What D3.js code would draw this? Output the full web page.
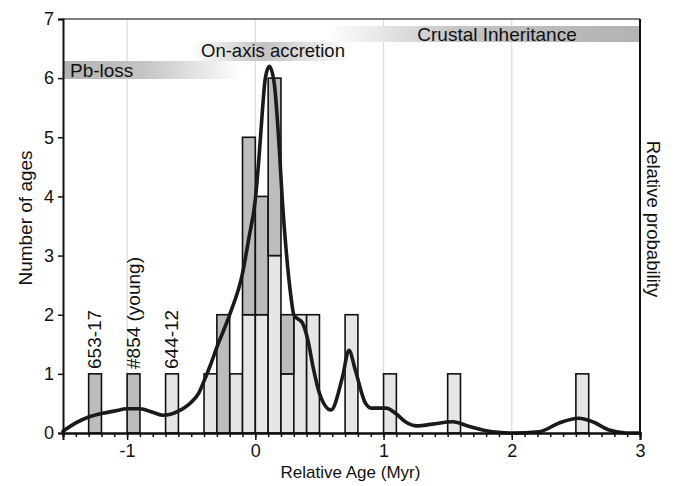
<!DOCTYPE html>
<html>
<head>
<meta charset="utf-8">
<script src="https://cdn.jsdelivr.net/npm/d3@7"></script>
<style>
  html, body { margin: 0; padding: 0; background: #fff; }
  svg { display: block; font-family: "Liberation Sans", Arial, sans-serif; }
</style>
</head>
<body>
<svg id="chart" width="678" height="486"></svg>
<script>
// Histogram bins (0.1 Myr wide), stacked: light part below, dark part above
const binStart   = [-1.3, -1.0, -0.7, -0.4, -0.3, -0.2, -0.1, 0.0, 0.1, 0.2, 0.3, 0.4, 0.7, 1.0, 1.5, 2.5];
const lightCount = [0, 0, 1, 1, 0, 1, 2, 2, 3, 1, 2, 2, 2, 1, 1, 1];
const darkCount  = [1, 1, 0, 0, 2, 0, 3, 2, 3, 1, 0, 0, 0, 0, 0, 0];
const binWidth = 0.1;

// Relative probability curve (scaled to count units)
const probAge = [-1.5, -1.4, -1.3, -1.2, -1.1, -1.0, -0.9, -0.8, -0.72, -0.6, -0.5, -0.44, -0.4, -0.35, -0.3, -0.2, -0.1, -0.05, 0.0, 0.03, 0.057, 0.078, 0.11, 0.148, 0.187, 0.21, 0.24, 0.278, 0.30, 0.37, 0.41, 0.45, 0.5, 0.59, 0.68, 0.73, 0.78, 0.86, 0.91, 1.02, 1.095, 1.17, 1.26, 1.38, 1.54, 1.67, 1.85, 2.0, 2.21, 2.37, 2.52, 2.63, 2.76, 2.89, 3.0];
const probVal = [0.03, 0.17, 0.27, 0.33, 0.37, 0.41, 0.41, 0.35, 0.30, 0.37, 0.52, 0.68, 0.88, 1.15, 1.45, 2.0, 2.7, 3.3, 3.95, 4.7, 5.5, 6.0, 6.2, 5.9, 4.8, 3.95, 3.1, 2.3, 2.0, 1.85, 1.57, 1.12, 0.67, 0.39, 0.95, 1.4, 1.06, 0.5, 0.42, 0.42, 0.33, 0.19, 0.12, 0.15, 0.19, 0.11, 0.02, 0.0, 0.02, 0.17, 0.25, 0.19, 0.05, 0.0, 0.0];

// Sample labels above individual bins
const sampleLabels = ["653-17", "#854 (young)", "644-12"];
const sampleAges   = [-1.25, -0.95, -0.65];

// Interpretive bands across the top
const bandNames = ["Pb-loss", "On-axis accretion", "Crustal Inheritance"];

const xTicks = [-1, 0, 1, 2, 3];
const yTicks = [0, 1, 2, 3, 4, 5, 6, 7];

const svg = d3.select("#chart");
const plotL = 63, plotR = 640, plotT = 19, plotB = 433;

const x = d3.scaleLinear().domain([-1.5, 3]).range([plotL, plotR]);
const y = d3.scaleLinear().domain([0, 7]).range([plotB, plotT]);

// Vertical grid lines
svg.append("g").selectAll("line")
  .data([-1, 0, 1, 2]).join("line")
  .attr("x1", d => x(d)).attr("x2", d => x(d))
  .attr("y1", plotT).attr("y2", plotB)
  .attr("stroke", "#dcdcdc").attr("stroke-width", 1.2);

// Gradients for the top bands
const defs = svg.append("defs");
function grad(id, stops) {
  const g = defs.append("linearGradient").attr("id", id)
    .attr("x1", "0%").attr("x2", "100%").attr("y1", "0%").attr("y2", "0%");
  stops.forEach(s => g.append("stop").attr("offset", s[0]).attr("stop-color", s[1]));
}
grad("gPb", [["0%", "#b2b2b2"], ["45%", "#c4c4c4"], ["100%", "#ffffff"]]);
grad("gAx", [["0%", "#ffffff"], ["45%", "#c2c2c2"], ["100%", "#ffffff"]]);
grad("gCr", [["0%", "#ffffff"], ["40%", "#c6c6c6"], ["100%", "#b2b2b2"]]);

const bands = svg.append("g");
bands.append("rect").attr("x", x(-1.5)).attr("y", 61).attr("width", x(-0.1) - x(-1.5)).attr("height", 18).attr("fill", "url(#gPb)");
bands.append("rect").attr("x", x(-0.5)).attr("y", 42).attr("width", x(0.75) - x(-0.5)).attr("height", 19).attr("fill", "url(#gAx)");
bands.append("rect").attr("x", x(0.55)).attr("y", 26).attr("width", x(3) - x(0.55)).attr("height", 16).attr("fill", "url(#gCr)");

bands.append("text").attr("x", x(-1.5) + 7).attr("y", 77).attr("font-size", 19).attr("fill", "#111").text(bandNames[0]);
bands.append("text").attr("x", 201).attr("y", 57).attr("font-size", 18.5).attr("fill", "#111").text(bandNames[1]);
bands.append("text").attr("x", 497).attr("y", 41).attr("text-anchor", "middle").attr("font-size", 19).attr("fill", "#111").text(bandNames[2]);

// Histogram bars
const bins = binStart.map((s, i) => ({ s, light: lightCount[i], dark: darkCount[i] }));
const barG = svg.append("g").attr("stroke", "#111").attr("stroke-width", 1.6);
barG.selectAll("rect.light").data(bins.filter(d => d.light > 0)).join("rect")
  .attr("class", "light")
  .attr("x", d => x(d.s)).attr("width", d => x(d.s + binWidth) - x(d.s))
  .attr("y", d => y(d.light)).attr("height", d => y(0) - y(d.light))
  .attr("fill", "#e6e6e6");
barG.selectAll("rect.dark").data(bins.filter(d => d.dark > 0)).join("rect")
  .attr("class", "dark")
  .attr("x", d => x(d.s)).attr("width", d => x(d.s + binWidth) - x(d.s))
  .attr("y", d => y(d.light + d.dark)).attr("height", d => y(d.light) - y(d.light + d.dark))
  .attr("fill", "#bcbcbc");

// Probability curve
const line = d3.line().x((d, i) => x(probAge[i])).y((d, i) => y(probVal[i])).curve(d3.curveMonotoneX);
svg.append("path").datum(probVal).attr("d", line)
  .attr("fill", "none").attr("stroke", "#1a1a1a").attr("stroke-width", 3.6)
  .attr("stroke-linejoin", "round").attr("stroke-linecap", "round");

// Sample labels
svg.append("g").selectAll("text").data(sampleLabels).join("text")
  .attr("transform", (d, i) => `translate(${x(sampleAges[i]) + 6},369) rotate(-90)`)
  .attr("font-size", 19).attr("fill", "#111").text(d => d);

// Frame: top and right lines
svg.append("line").attr("x1", plotL).attr("x2", plotR).attr("y1", plotT).attr("y2", plotT)
  .attr("stroke", "#555").attr("stroke-width", 1.5);
svg.append("line").attr("x1", plotR).attr("x2", plotR).attr("y1", plotT).attr("y2", plotB)
  .attr("stroke", "#111").attr("stroke-width", 2);

// Bottom axis: minor ticks every 0.1, major ticks with labels
const minor = d3.range(-15, 31).map(i => i / 10);
const xMinor = svg.append("g").attr("transform", `translate(0,${plotB})`)
  .call(d3.axisBottom(x).tickValues(minor).tickSize(4).tickFormat(""));
const xMajor = svg.append("g").attr("transform", `translate(0,${plotB})`)
  .call(d3.axisBottom(x).tickValues(xTicks).tickSize(7).tickPadding(4).tickFormat(d => String(d)));
[xMinor, xMajor].forEach(g => {
  g.select(".domain").attr("stroke", "#111").attr("stroke-width", 2);
  g.selectAll(".tick line").attr("stroke", "#111").attr("stroke-width", 1.5);
});
xMajor.selectAll("text").attr("font-size", 18).attr("fill", "#111").attr("font-family", "Liberation Sans, Arial, sans-serif");

// Left axis
const yAx = svg.append("g").attr("transform", `translate(${plotL},0)`)
  .call(d3.axisLeft(y).tickValues(yTicks).tickSize(5).tickPadding(4).tickFormat(d3.format("d")));
yAx.select(".domain").attr("stroke", "#111").attr("stroke-width", 2);
yAx.selectAll(".tick line").attr("stroke", "#111").attr("stroke-width", 1.5);
yAx.selectAll("text").attr("font-size", 18).attr("fill", "#111").attr("font-family", "Liberation Sans, Arial, sans-serif");

// Axis titles
svg.append("text").attr("x", (plotL + plotR) / 2 - 1).attr("y", 478).attr("text-anchor", "middle")
  .attr("font-size", 17).attr("fill", "#111").text("Relative Age (Myr)");
svg.append("text").attr("transform", `translate(32,${(plotT + plotB) / 2 - 8}) rotate(-90)`).attr("text-anchor", "middle")
  .attr("font-size", 19).attr("fill", "#111").text("Number of ages");
svg.append("text").attr("transform", `translate(647,${(plotT + plotB) / 2 - 7}) rotate(90)`).attr("text-anchor", "middle")
  .attr("font-size", 18.5).attr("fill", "#111").text("Relative probability");
</script>
</body>
</html>
